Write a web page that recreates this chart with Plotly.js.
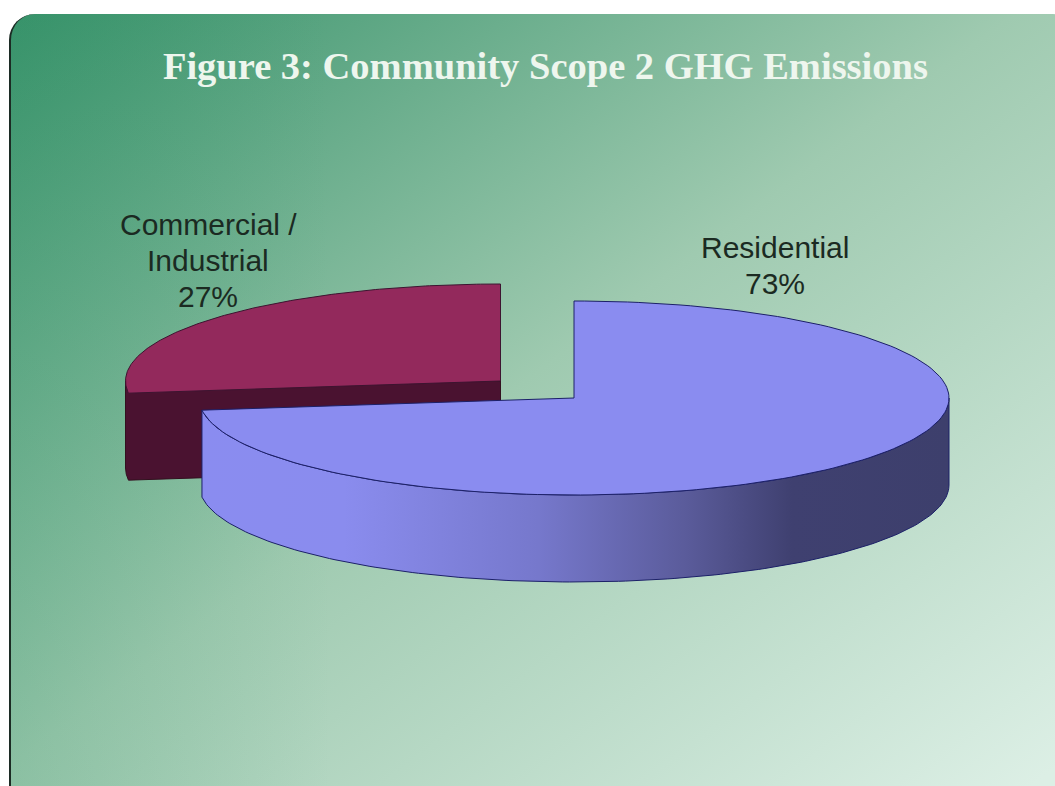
<!DOCTYPE html>
<html>
<head>
<meta charset="utf-8">
<title>Figure 3: Community Scope 2 GHG Emissions</title>
<script src="https://cdn.plot.ly/plotly-3.0.1.min.js"></script>
<style>
html,body{margin:0;padding:0;width:1055px;height:786px;overflow:hidden;background:#fff}
#card{position:absolute;left:9px;top:14px;width:1070px;height:800px;box-sizing:border-box;border-radius:26px;border-left:2px solid #1c2b24;
background:linear-gradient(to right,rgba(55,150,106,.2),rgba(55,150,106,0) 30%),linear-gradient(to bottom right,#37926a 0%,#9fcab0 47%,#dcefe5 96%)}
#chart{position:absolute;left:0;top:0;width:1055px;height:786px}
</style>
</head>
<body>
<div id="card"></div>
<div id="chart"></div>
<script>
const chartTitle = "Figure 3: Community Scope 2 GHG Emissions";
const categories = ["Residential", "Commercial /<br>Industrial"];
const shares = [73, 27];
const topColors = ["#8a8cf0", "#93295c"];
const edgeColors = ["#1c2068", "#3d1430"];
const wallColor = "#4a1230";
const wallScale = [[0,"#8a8cf0"],[0.19,"#8a8cee"],[0.45,"#7678cc"],[0.65,"#5a5b9a"],[0.79,"#3f4070"],[1,"#3d3f6c"]];

// pie geometry on the chart's pixel-sized axes
const centers = [[574, 398], [500.5, 381]];
const rx = 375, ry = 97, depth = 87;
const labelTops = [[775, 247.5], [208, 224.5]];
const labelPitch = 36;

function pt(c, deg, dy) {
  const a = deg * Math.PI / 180;
  return [c[0] + rx * Math.sin(a), c[1] - ry * Math.cos(a) + (dy || 0)];
}
function arc(c, from, to, dy) {
  const out = [], n = 160;
  for (let i = 0; i <= n; i++) out.push(pt(c, from + (to - from) * i / n, dy));
  return out;
}
function poly(points, extra) {
  return Object.assign({
    x: points.map(p => p[0]), y: points.map(p => p[1]),
    mode: "lines", fill: "toself", hoverinfo: "skip", showlegend: false
  }, extra);
}

const total = shares.reduce((a, b) => a + b, 0);
const end0 = 360 * shares[0] / total;
const c0 = centers[0], c1 = centers[1];

const traces = [];
// Commercial: cut wall and the sliver of outer wall at its left end
traces.push(poly([c1, pt(c1, 270)].concat(arc(c1, 270, end0, depth)).concat([[c1[0], c1[1] + depth], c1]),
  {fillcolor: wallColor, line: {color: "#33101f", width: 1}}));
// Commercial: top
traces.push(poly([c1].concat(arc(c1, end0, 360)).concat([c1]),
  {fillcolor: topColors[1], line: {color: edgeColors[1], width: 1}}));
// Residential: outer wall
const frontTop = arc(c0, 90, end0);
const frontBottom = arc(c0, end0, 90, depth);
traces.push(poly(frontTop.concat(frontBottom).concat([frontTop[0]]),
  {fillgradient: {type: "horizontal", colorscale: wallScale}, line: {color: edgeColors[0], width: 1}}));
// Residential: top
traces.push(poly([c0].concat(arc(c0, 0, end0)).concat([c0]),
  {fillcolor: topColors[0], line: {color: edgeColors[0], width: 1}}));

const annotations = [];
categories.forEach((name, i) => {
  const lines = name.split("<br>").concat([shares[i] + "%"]);
  lines.forEach((line, j) => annotations.push({
    x: labelTops[i][0], y: labelTops[i][1] + j * labelPitch, xref: "x", yref: "y",
    text: line, showarrow: false,
    xanchor: "center", yanchor: "middle", align: "center",
    font: {family: "Liberation Sans, Arial, sans-serif", size: 30, color: "#1b2a22"}
  }));
});

const layout = {
  width: 1055, height: 786,
  margin: {l: 0, r: 0, t: 0, b: 0},
  paper_bgcolor: "rgba(0,0,0,0)", plot_bgcolor: "rgba(0,0,0,0)",
  showlegend: false,
  title: {text: "<b>" + chartTitle + "</b>", x: 0.517, y: 0.916, xanchor: "center", yanchor: "middle",
    font: {family: "Liberation Serif, Times New Roman, serif", size: 38.5, color: "#eef6ee"}},
  xaxis: {range: [0, 1055], visible: false, fixedrange: true},
  yaxis: {range: [786, 0], visible: false, fixedrange: true},
  annotations: annotations
};
Plotly.newPlot("chart", traces, layout, {displayModeBar: false, staticPlot: true});
</script>
</body>
</html>
